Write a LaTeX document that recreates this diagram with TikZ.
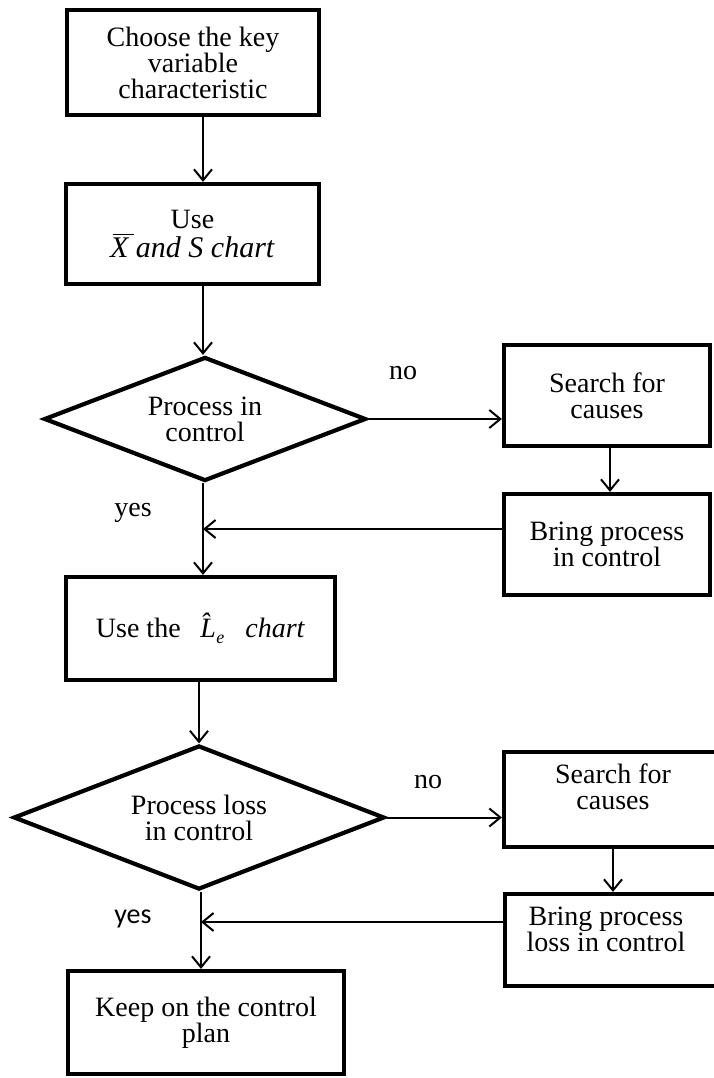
\documentclass[tikz,border=0pt]{standalone}
\usepackage{fontspec}
\setmainfont{Liberation Serif}
\newfontfamily\yesfont{Carlito}
\usetikzlibrary{shapes.geometric,arrows.meta}
\newcommand\myxbar{\makebox[0pt][l]{\hspace{0.08em}\rule[0.74em]{0.72em}{0.06em}}X}
\newcommand\mylhat{\^{L}\hspace{0.02em}\raisebox{-0.22em}{\fontsize{18}{18}\selectfont e}}
\begin{document}
\begin{tikzpicture}[x=1pt,y=-1pt,
  box/.style={draw, line width=4.2pt, rectangle, align=center, inner sep=0pt, font=\fontsize{28}{26}\selectfont},
  dia/.style={draw, line width=4.2pt, diamond, aspect=2.5, align=center, inner sep=0pt, font=\fontsize{28}{26}\selectfont},
  txt/.style={align=center, inner sep=0pt, font=\fontsize{28}{26}\selectfont},
  arr/.style={line width=2pt, -{Straight Barb[length=11pt,width=18pt]}},
  lab/.style={inner sep=0pt, font=\fontsize{28}{26}\selectfont}]
\clip (0,0) rectangle (714,1078);
% main column
\node[box, minimum width=252pt, minimum height=105pt] (b1) at (193,62.5) {Choose the key\\variable\\characteristic};
\node[box, minimum width=253pt, minimum height=100pt] (b2) at (192.5,234) {Use\\[3pt]{\fontsize{30}{26}\selectfont\textit{\myxbar{} and S chart}}};
\node[dia, minimum width=322pt, minimum height=124pt] (d1) at (205,419) {Process in\\control};
\node[box, minimum width=269pt, minimum height=103pt] (b3) at (200.5,628.5) {Use the\hspace{0.7em}\textit{\mylhat}\hspace{0.75em}\textit{chart}};
\node[dia, minimum width=371pt, minimum height=144pt] (d2) at (199,817.5) {Process loss\\in control};
\node[box, minimum width=276pt, minimum height=103pt] (b5) at (206,1022.5) {Keep on the control\\plan};
% right column
\node[box, minimum width=206pt, minimum height=101pt] (s1) at (607,395.5) {Search for\\causes};
\node[box, minimum width=206pt, minimum height=101pt] (r1) at (607,544.5) {Bring process\\in control};
\node[box, minimum width=226pt, minimum height=95pt] (s2) at (617,799.5) {};
\node[txt] (s2t) at (613,787) {Search for\\causes};
\node[box, minimum width=225pt, minimum height=92pt] (r2) at (617.5,940) {};
\node[txt] (r2t) at (606,929) {Bring process\\loss in control};
% labels
\node[lab] (no1) at (403,373) {no};
\node[lab] (yes1) at (133,513) {yes};
\node[lab] (no2) at (428,782) {no};
\node[lab, font={\yesfont\fontsize{28}{26}\selectfont}] (yes2) at (133,919) {yes};
% connectors
\coordinate (m1) at (203,0);
\coordinate (m2) at (201,0);
\draw[arr] (b1.south -| m1) -- (b2.north -| m1);
\draw[arr] (b2.south -| m1) -- (d1.north -| m1);
\draw[arr] (d1.south -| m1) -- (b3.north -| m1);
\draw[arr] (d1.east) -- (d1.east -| s1.west);
\draw[arr] (s1.south -| 610,0) -- (r1.north -| 610,0);
\coordinate (r1in) at ([yshift=15.5pt]r1.west);
\draw[arr] (r1in) -- (r1in -| m1);
\draw[arr] (b3.south -| d2.north) -- (d2.north);
\draw[arr] (d2.east) -- (d2.east -| s2.west);
\draw[arr] (s2.south -| 613,0) -- (r2.north -| 613,0);
\coordinate (r2in) at ([yshift=18pt]r2.west);
\draw[arr] (r2in) -- (r2in -| m2);
\draw[arr] (d2.south -| m2) -- (b5.north -| m2);
\end{tikzpicture}
\end{document}
